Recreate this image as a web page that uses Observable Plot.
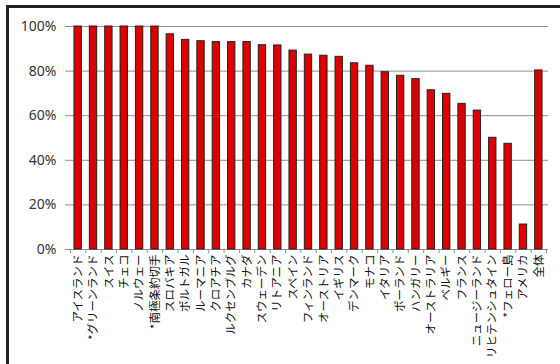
<!DOCTYPE html>
<html>
<head>
<meta charset="utf-8">
<script src="https://cdn.jsdelivr.net/npm/d3@7"></script>
<script src="https://cdn.jsdelivr.net/npm/@observablehq/plot@0.6"></script>
<style>
  html, body { margin: 0; padding: 0; background: #fff; }
  #wrap { position: relative; width: 560px; height: 364px; overflow: hidden; }
  #frame { position: absolute; left: 6px; top: 5px; width: 560px; height: 370px;
           border-left: 3px solid #222; border-top: 3px solid #222; box-sizing: border-box; pointer-events: none; }
  svg { position: absolute; left: 0; top: 0; }
</style>
</head>
<body>
<div id="wrap"><div id="frame"></div></div>
<script>
const categories = [
  "アイスランド", "*グリーンランド", "スイス", "チェコ", "ノルウェー", "*南極条約切手",
  "スロバキア", "ポルトガル", "ルーマニア", "クロアチア", "ルクセンブルグ", "カナダ",
  "スウェーデン", "リトアニア", "スペイン", "フィンランド", "オーストリア", "イギリス",
  "デンマーク", "モナコ", "イタリア", "ポーランド", "ハンガリー", "オーストラリア",
  "ベルギー", "フランス", "ニュージーランド", "リヒテンシュタイン", "*フェロー島", "アメリカ", "全体"
];
const values = [
  1.00, 1.00, 1.00, 1.00, 1.00, 1.00,
  0.965, 0.940, 0.934, 0.930, 0.930, 0.930,
  0.916, 0.915, 0.892, 0.874, 0.869, 0.864,
  0.835, 0.824, 0.795, 0.779, 0.764, 0.714,
  0.698, 0.653, 0.623, 0.501, 0.474, 0.112, 0.803
];
const yTicks = [0, 0.2, 0.4, 0.6, 0.8, 1.0];

const data = categories.map((c, i) => ({category: c, value: values[i]}));

const W = 560, H = 364;
const pad = 0.52;
const mL = 66, mR = 10;
const step = (W - mL - mR) / (categories.length + pad);

const chart = Plot.plot({
  width: W,
  height: H,
  marginLeft: mL,
  marginRight: mR,
  marginTop: 26,
  marginBottom: 115,
  style: {background: "transparent", fontFamily: "'Noto Sans', 'Noto Sans CJK JP', sans-serif"},
  x: {domain: categories, padding: pad, round: false, label: null},
  y: {domain: [0, 1], label: null},
  marks: [
    Plot.ruleY(yTicks, {stroke: "#8e8e8e", strokeWidth: 1, insetLeft: -1, insetRight: 2}),
    Plot.barY(data, {x: "category", y: "value", fill: "#dc0000", stroke: "#222", strokeWidth: 1}),
    Plot.ruleX(categories, {x: d => d, dx: -step / 2, y1: 0, y2: 0, insetBottom: -4, stroke: "#8e8e8e"}),
    Plot.ruleX(categories.slice(-1), {x: d => d, dx: step / 2, y1: 0, y2: 0, insetBottom: -4, stroke: "#8e8e8e"}),
    Plot.axisY({ticks: yTicks, tickFormat: d3.format(".0%"), tickSize: 0, tickPadding: 10,
      fontSize: 14, fill: "#333"}),
    Plot.axisX({tickRotate: -90, tickSize: 0, tickPadding: 5, fontSize: 11.5, fill: "#111",
      fontFamily: "'Noto Sans CJK JP', sans-serif"})
  ]
});
document.getElementById("wrap").insertBefore(chart, document.getElementById("frame"));
</script>
</body>
</html>
